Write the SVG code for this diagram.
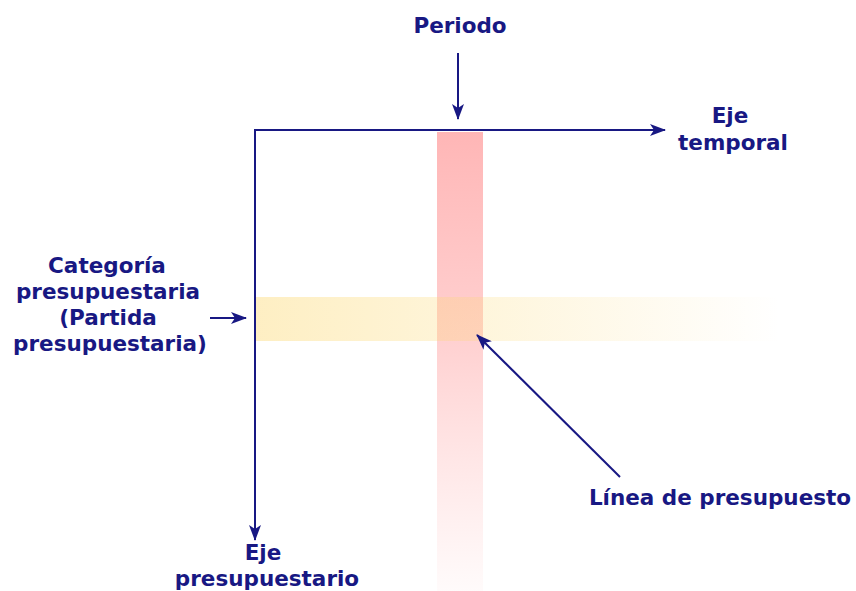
<svg xmlns="http://www.w3.org/2000/svg" width="856" height="591" viewBox="0 0 856 591">
<style>
text{font-family:"DejaVu Sans","Liberation Sans",sans-serif;font-weight:bold;font-size:21.5px;fill:#181883;text-anchor:middle}
.ln{stroke:#181883;stroke-width:2;fill:none}
</style>
<defs>
<linearGradient id="gRed" x1="0" y1="0" x2="0" y2="1">
<stop offset="0" stop-color="#ffb6b6" stop-opacity="1"/>
<stop offset="0.45" stop-color="#ffbcbc" stop-opacity="0.7"/>
<stop offset="1" stop-color="#ffc8c8" stop-opacity="0.08"/>
</linearGradient>
<linearGradient id="gYel" x1="0" y1="0" x2="1" y2="0">
<stop offset="0" stop-color="#fcd870" stop-opacity="0.42"/>
<stop offset="0.5" stop-color="#fcd870" stop-opacity="0.22"/>
<stop offset="1" stop-color="#fcd870" stop-opacity="0"/>
</linearGradient>
<marker id="ah" viewBox="0 0 16 12" refX="15" refY="6" markerWidth="16" markerHeight="12" markerUnits="userSpaceOnUse" orient="auto">
<path d="M0,0 L16,6 L0,12 L4,6 Z" fill="#181883"/>
</marker>
</defs>
<g id="bands">
<rect x="437" y="132" width="46" height="459" fill="url(#gRed)"/>
<rect x="256" y="297" width="524" height="44" fill="url(#gYel)"/>
</g>
<g id="connectors">
<line class="ln" x1="255" y1="130" x2="255" y2="540" marker-end="url(#ah)"/>
<line class="ln" x1="254" y1="130" x2="665" y2="130" marker-end="url(#ah)"/>
<line class="ln" x1="458" y1="53" x2="458" y2="119" marker-end="url(#ah)"/>
<line class="ln" x1="210" y1="318" x2="246" y2="318" marker-end="url(#ah)"/>
<line class="ln" x1="620" y1="477" x2="477" y2="335" marker-end="url(#ah)"/>
</g>
<g id="periodo"><text x="460" y="33">Periodo</text></g>
<g id="eje-temporal"><text x="730" y="123">Eje</text><text x="733" y="150">temporal</text></g>
<g id="categoria">
<text x="107" y="273">Categoría</text>
<text x="108" y="299">presupuestaria</text>
<text x="108" y="325">(Partida</text>
<text x="110" y="351">presupuestaria)</text>
</g>
<g id="linea"><text x="720" y="505">Línea de presupuesto</text></g>
<g id="eje-presupuestario"><text x="263" y="560">Eje</text><text x="267" y="586">presupuestario</text></g>
</svg>
